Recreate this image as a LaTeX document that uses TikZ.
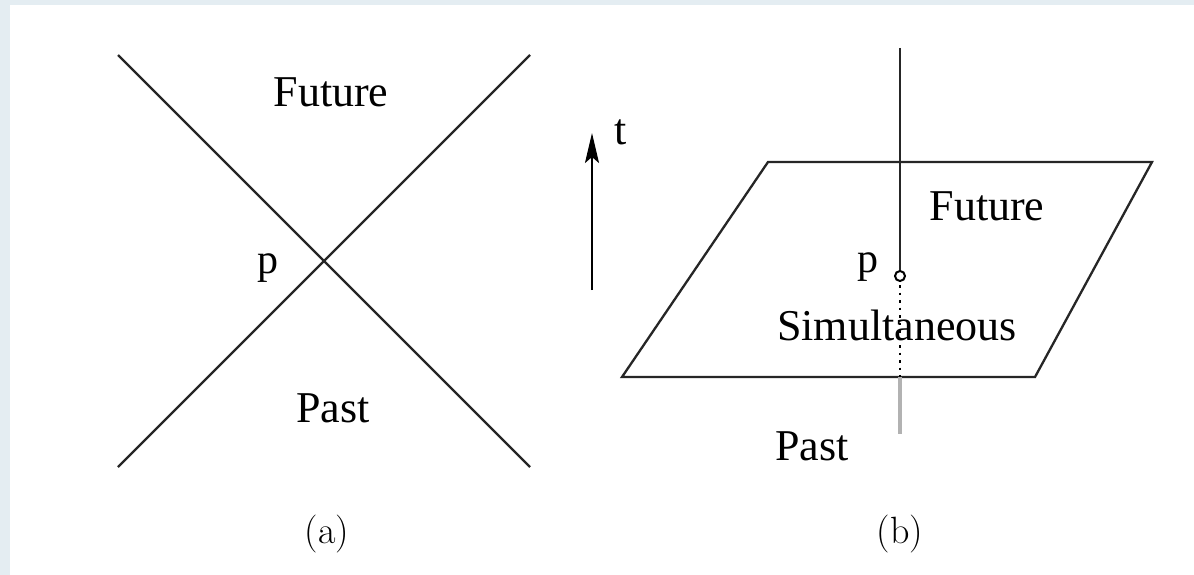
\documentclass[tikz,border=0pt]{standalone}
\usepackage{fontspec}
\newfontfamily\tms{Liberation Serif}
\usetikzlibrary{arrows.meta}
\definecolor{edgeblue}{HTML}{E4EDF2}
\tikzset{
  ln/.style={line width=2.3pt, black!85},
  lbl/.style={font=\tms\fontsize{44}{50}\selectfont, inner sep=0pt},
  sub/.style={font=\fontsize{38}{44}\selectfont, inner sep=0pt},
}
\begin{document}
\begin{tikzpicture}[x=1pt,y=-1pt]
\useasboundingbox (0,0) rectangle (1194,575);
\fill[edgeblue] (0,0) rectangle (1194,575);
\fill[white] (10,5) rectangle (1194,575);
% panel (a)
\coordinate (a1) at (118,55);
\coordinate (a2) at (530,467);
\coordinate (a3) at (530,55);
\coordinate (a4) at (118,467);
\draw[ln] (a1) -- (a2);
\draw[ln] (a3) -- (a4);
\node[lbl, anchor=base] (futa) at (331,107) {Future};
\node[lbl, anchor=base, font=\tms\fontsize{42}{48}\selectfont] (pa) at (268,273) {p};
\node[lbl, anchor=base] (pasta) at (333,422) {Past};
\node[sub] (la) at (327,534) {(a)};
% time arrow
\coordinate (t0) at (592,290);
\coordinate (t1) at (592,133);
\draw[line width=2.2pt, -{Stealth[length=30pt,width=14pt,inset=6pt]}] (t0) -- (t1);
\node[lbl, anchor=base] (tl) at (621,145) {t};
% panel (b)
\coordinate (q1) at (768,162);
\coordinate (q2) at (1152,162);
\coordinate (q3) at (1035,377);
\coordinate (q4) at (622,377);
\draw[ln, line join=miter] (q1) -- (q2) -- (q3) -- (q4) -- cycle;
\coordinate (top) at (900,48);
\node[circle, draw, line width=2pt, fill=white, minimum size=10pt, inner sep=0pt] (pt) at (900,276) {};
\coordinate (bot) at (900,377);
\coordinate (end) at (900,434);
\draw[ln] (top) -- (pt.north);
\draw[line width=2.2pt, dash pattern=on 2.5pt off 5pt] ([yshift=-3pt]pt.south) -- (bot);
\draw[line width=3.5pt, black!30] (bot) -- (end);
\node[lbl, anchor=base] (futb) at (987,220) {Future};
\node[lbl, anchor=base, font=\tms\fontsize{42}{48}\selectfont] (pb) at (868,272) {p};
\node[lbl, anchor=base] (sim) at (897,340) {Simultaneous};
\node[lbl, anchor=base] (pastb) at (812,460) {Past};
\node[sub] (lb) at (900,534) {(b)};
\end{tikzpicture}
\end{document}
